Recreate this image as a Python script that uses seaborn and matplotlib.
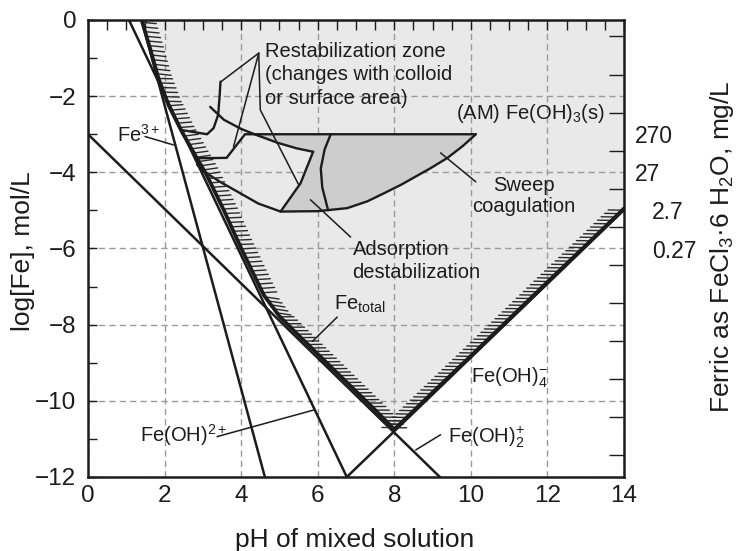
import numpy as np
import matplotlib
matplotlib.use("Agg")
import matplotlib.pyplot as plt
import matplotlib.patheffects as pe
from matplotlib.transforms import blended_transform_factory
import seaborn as sns

# ---------------- data (pH, log[Fe]) ----------------
fe3_ph = [1.40, 4.62]            # Fe3+
fe3_log = [0.0, -12.0]
feoh_ph = [1.07, 6.76]           # Fe(OH)2+
feoh_log = [0.0, -12.0]
feoh2_ph = [0.0, 9.19]           # Fe(OH)2+
feoh2_log = [-3.0, -12.0]
feoh4_ph = [6.76, 14.0]          # Fe(OH)4-
feoh4_log = [-12.0, -4.99]

total_ph = [1.40, 1.62, 1.84, 2.10, 2.45, 2.80, 3.10, 3.55, 3.98, 4.30, 4.59,
            5.00, 5.50, 6.00, 6.50, 7.00, 7.50, 8.00, 9.00, 10.00, 11.00, 12.00, 13.00, 14.00]
total_log = [0.00, -0.74, -1.53, -2.23, -2.93, -3.55, -4.07, -5.00, -5.95, -6.62, -7.22,
             -7.78, -8.28, -8.77, -9.26, -9.75, -10.24, -10.75, -9.78, -8.82, -7.85, -6.88, -5.92, -4.95]

# coagulation zones
hook_ph = [2.45, 3.11, 3.28, 3.40, 3.44, 3.46]
hook_log = [-2.89, -3.00, -2.84, -2.49, -1.97, -1.62]
upper_ph = [3.19, 3.55, 4.00, 4.35, 4.94, 5.45, 5.88]
upper_log = [-2.28, -2.62, -2.86, -3.00, -3.22, -3.37, -3.46]
edge_ph = [5.88, 5.55, 5.03]
edge_log = [-3.46, -4.29, -5.03]
top_ph = [2.80, 3.62, 4.10, 10.13]
top_log = [-3.63, -3.62, -3.00, -3.00]
bottom_ph = [2.85, 3.02, 3.45, 3.89, 4.45, 5.03, 6.00, 6.77, 7.30, 7.73, 8.17, 8.95, 9.39, 9.80, 10.13]
bottom_log = [-3.80, -3.97, -4.25, -4.50, -4.82, -5.03, -5.02, -4.94, -4.76, -4.55, -4.33, -3.89, -3.62, -3.30, -3.00]
divider_ph = [6.34, 6.18, 6.08, 6.12, 6.27]
divider_log = [-3.00, -3.40, -3.90, -4.40, -4.99]

# right axis (ferric as FeCl3.6H2O, mg/L)
ferric_labels = ["270", "27", "2.7", "0.27"]
ferric_label_log = [-3, -4, -5, -6]
ferric_tick_mg = [1e5, 1e4, 1e3, 1e2, 1e1, 1e0, 1e-1, 1e-2, 1e-3, 1e-4, 1e-5, 1e-6]
MW = 270300.0  # mg/mol

x_ticks = [0, 2, 4, 6, 8, 10, 12, 14]
y_ticks = [-12, -10, -8, -6, -4, -2, 0]

# ---------------- style ----------------
sns.set_theme(style="white")
plt.rcParams["font.family"] = ["Liberation Sans", "DejaVu Sans"]
plt.rcParams["mathtext.fontset"] = "custom"
plt.rcParams["mathtext.rm"] = "Liberation Sans"
plt.rcParams["mathtext.it"] = "Liberation Sans:italic"
plt.rcParams["mathtext.bf"] = "Liberation Sans:bold"
plt.rcParams["axes.unicode_minus"] = True

INK = "#1c1c1c"
LIGHT = "#e9e9e9"
DARK = "#cdcdcd"
GRID = "#9a9a9a"
ANN = 14.5

fig = plt.figure(figsize=(7.4, 5.51), dpi=100)
ax = fig.add_axes([88 / 740, 74 / 551, 536 / 740, 457 / 551])
ax.set_xlim(0, 14)
ax.set_ylim(-12, 0)

# light region above Fe_total
ax.fill_between(total_ph, total_log, 0, color=LIGHT, lw=0, zorder=1)

# grid
ax.set_xticks(x_ticks)
ax.set_yticks(y_ticks)
ax.set_xticks(np.arange(0, 14.01, 0.5), minor=True)
ax.set_yticks(np.arange(-12, 0.01, 1), minor=True)
ax.set_axisbelow("line")
ax.grid(True, which="major", color=GRID, lw=1.0, ls=(0, (4.5, 3)))

# dark zone (adsorption + sweep)
i0 = upper_ph.index(4.35)
poly_x = upper_ph[i0:] + edge_ph[1:] + bottom_ph[6:]
poly_y = upper_log[i0:] + edge_log[1:] + bottom_log[6:]
ax.fill(poly_x, poly_y, color=DARK, lw=0, zorder=2)

# species lines
for xs, ys in [(fe3_ph, fe3_log), (feoh_ph, feoh_log), (feoh2_ph, feoh2_log), (feoh4_ph, feoh4_log)]:
    sns.lineplot(x=xs, y=ys, ax=ax, color=INK, lw=1.8, sort=False, estimator=None, zorder=3)

# zone outlines
for xs, ys in [(hook_ph, hook_log), (upper_ph, upper_log), (edge_ph, edge_log),
               (top_ph, top_log), (bottom_ph, bottom_log), (divider_ph, divider_log)]:
    sns.lineplot(x=xs, y=ys, ax=ax, color=INK, lw=1.7, sort=False, estimator=None, zorder=3)

# Fe_total boundary with hatching
sns.lineplot(x=total_ph, y=total_log, ax=ax, color=INK, lw=2.7, sort=False, estimator=None, zorder=4)
for a, b, ang in [(0, 11, 68), (10, 18, 45), (17, 24, 135)]:
    ax.plot(total_ph[a:b], total_log[a:b], color="#2a2a2a", lw=1.0, zorder=3.5,
            path_effects=[pe.TickedStroke(spacing=3.5, angle=ang, length=2.9)])

# leader lines
leaders = [
    ([1.49, 2.23], [-3.06, -3.28]),
    ([6.51, 5.86], [-7.80, -8.44]),
    ([3.37, 5.90], [-10.94, -10.24]),
    ([9.21, 8.56], [-10.89, -11.29]),
    ([4.46, 3.46], [-0.87, -1.63]),
    ([4.46, 3.80], [-0.87, -3.33]),
    ([4.46, 4.50, 5.50], [-0.87, -2.36, -4.32]),
    ([5.81, 6.86], [-4.72, -5.70]),
    ([9.21, 10.13], [-3.49, -4.25]),
]
for xs, ys in leaders:
    ax.plot(xs, ys, color=INK, lw=1.1, zorder=5)

# annotations
def t(x, y, s, **kw):
    ax.text(x, y, s, fontsize=kw.pop("fs", ANN), color=INK, zorder=6, va="baseline", **kw)

t(0.75, -3.19, r"Fe$^{3+}$")
t(6.42, -7.61, r"Fe$_{\mathrm{total}}$")
t(1.36, -11.07, r"Fe(OH)$^{2+}$")
t(10.0, -9.53, r"Fe(OH)$_4^{-}$")
t(9.39, -11.10, r"Fe(OH)$_2^{+}$")
t(9.61, -2.61, r"(AM) Fe(OH)$_3$(s)")
for s, y in zip(["Restabilization zone", "(changes with colloid", "or surface area)"], [-0.96, -1.57, -2.20]):
    t(4.63, y, s)
for s, y in zip(["Sweep", "coagulation"], [-4.49, -5.03]):
    t(11.39, y, s, ha="center")
for s, y in zip(["Adsorption", "destabilization"], [-6.17, -6.77]):
    t(6.91, y, s)

# ticks
ax.tick_params(axis="both", which="both", direction="in", top=True, right=False,
               color=INK, labelcolor=INK)
ax.tick_params(axis="x", which="both", length=7, width=1.0)
ax.tick_params(axis="x", which="major", labelsize=17.5, pad=6)
ax.tick_params(axis="y", which="both", length=6.7, width=1.0)
ax.tick_params(axis="y", which="major", labelsize=17.5, pad=8.5)
for s in ax.spines.values():
    s.set_linewidth(1.8)
    s.set_color(INK)
    s.set_zorder(7)

# right axis ticks
ax2 = ax.twinx()
ax2.set_ylim(-12, 0)
ax2.set_yticks([np.log10(m / MW) for m in ferric_tick_mg])
ax2.set_yticklabels([])
ax2.tick_params(axis="y", direction="in", length=11, width=1.0, color=INK, right=True)
for s in ax2.spines.values():
    s.set_visible(False)
ax2.grid(False)

tr = blended_transform_factory(ax.transAxes, ax.transData)
for s, y, xa in zip(ferric_labels, ferric_label_log, [1.020, 1.020, 1.052, 1.052]):
    ax.text(xa, y, s, transform=tr, fontsize=16.5, color=INK, va="center_baseline", ha="left")

# axis titles
fig.text(355 / 740, 4 / 551, "pH of mixed solution", fontsize=19, color=INK, ha="center", va="baseline")
fig.text(30 / 740, (551 - 251) / 551, "log[Fe], mol/L", fontsize=19, color=INK, rotation=90,
         rotation_mode="anchor", ha="center", va="baseline")
fig.text(729 / 740, (551 - 247) / 551, "Ferric as FeCl$_3$·6 H$_2$O, mg/L", fontsize=19, color=INK,
         rotation=90, rotation_mode="anchor", ha="center", va="baseline")

fig.savefig("out.png", dpi=100)
